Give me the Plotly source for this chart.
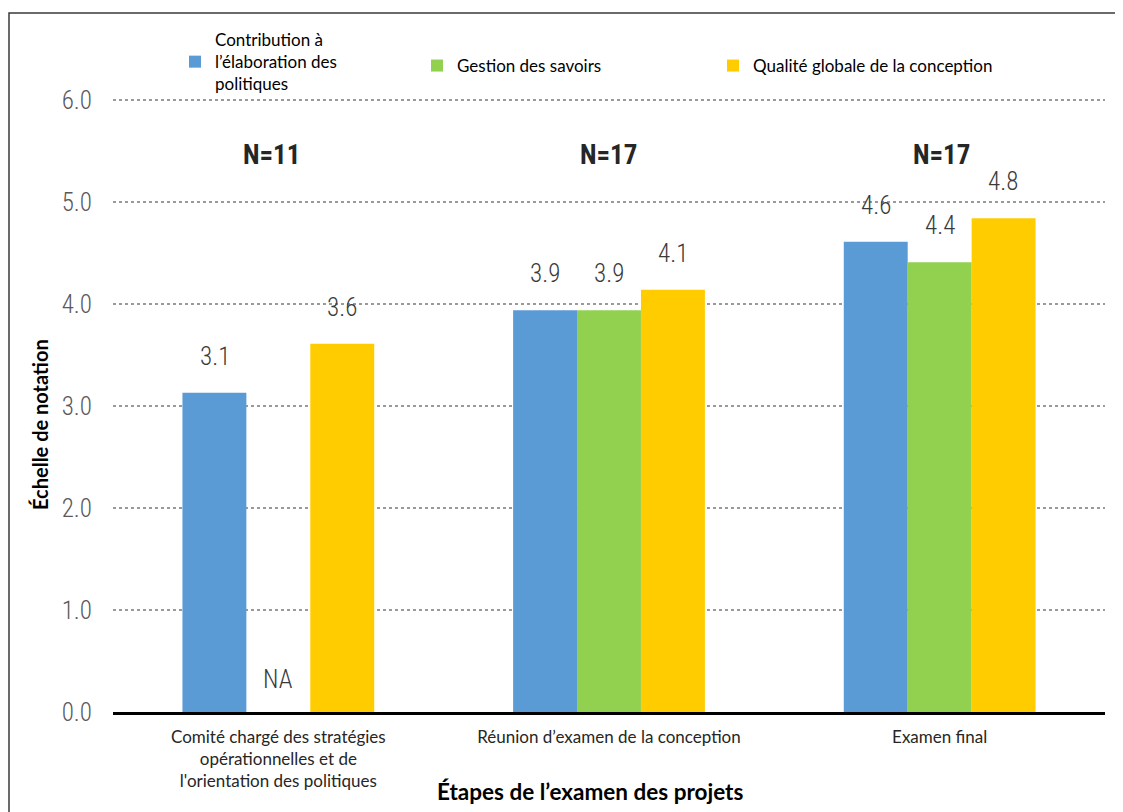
import plotly.graph_objects as go

categories = ["Comité chargé des stratégies<br>opérationnelles et de<br>l'orientation des politiques",
              "Réunion d’examen de la conception",
              "Examen final"]
cat_keys = ["c1", "c2", "c3"]
series_names = ["Contribution à<br>l’élaboration des<br>politiques",
                "Gestion des savoirs",
                "Qualité globale de la conception"]
contribution = [3.13, 3.94, 4.61]
gestion = [None, 3.94, 4.41]
qualite = [3.61, 4.14, 4.84]
n_labels = ["N=11", "N=17", "N=17"]
colors = ["#5B9BD5", "#92D050", "#FFCC00"]
y_ticks = [0, 1, 2, 3, 4, 5, 6]

# page has an 8px body margin; figure coords = page coords - 8
OFF = 8
W, H = 1115, 804
L, T = 113 - OFF, 98 - OFF
R = W - (1105 - OFF)
B = H - (712 - OFF)
pw, ph = W - L - R, H - T - B


def px_x(p):
    return (p - OFF - L) / pw


def px_y(p):
    return (H - B - (p - OFF)) / ph


num_font = "Roboto Condensed, Noto Sans Condensed, Lato"
txt_font = "Lato, Open Sans, sans-serif"

fig = go.Figure()
series = [contribution, gestion, qualite]
legends = ["legend", "legend2", "legend3"]
for name, vals, col, lg in zip(series_names, series, colors, legends):
    fig.add_trace(go.Bar(x=cat_keys, y=vals, name=name, marker_color=col,
                         marker_line_width=0, legend=lg, showlegend=True))

annotations = []
offsets = [-1, 0, 1]
for vals, off in zip(series, offsets):
    for i, v in enumerate(vals):
        if v is None:
            annotations.append(dict(x=i + off * 0.193, y=0, xref="x", yref="y",
                                    text="NA", showarrow=False, xanchor="center",
                                    yanchor="bottom", yshift=16,
                                    font=dict(family=num_font, size=25, weight=300, color="#3a3a3a")))
        else:
            annotations.append(dict(x=i + off * 0.193, y=v, xref="x", yref="y",
                                    text=f"{v:.1f}", showarrow=False, xanchor="center",
                                    yanchor="bottom", yshift=20,
                                    font=dict(family=num_font, size=25, weight=300, color="#3a3a3a")))
n_pos = [271, 608, 941]
for i, n in enumerate(n_labels):
    annotations.append(dict(x=px_x(n_pos[i]), y=px_y(155), xref="paper", yref="paper",
                            text=f"<b>{n}</b>", showarrow=False, xanchor="center", yanchor="middle",
                            font=dict(family=num_font, size=27, color="#262626")))
annotations.append(dict(x=px_x(40), y=px_y(425), xref="paper", yref="paper",
                        text="<b>Échelle de notation</b>", textangle=-90, showarrow=False,
                        xanchor="center", yanchor="middle",
                        font=dict(family=txt_font, size=20, color="#000000")))
annotations.append(dict(x=px_x(590), y=px_y(791), xref="paper", yref="paper",
                        text="<b>Étapes de l’examen des projets</b>", showarrow=False,
                        xanchor="center", yanchor="middle",
                        font=dict(family=txt_font, size=22.5, color="#000000")))

leg_font = dict(family=txt_font, size=17, color="#000000")
fig.update_layout(
    width=W, height=H,
    margin=dict(l=L, r=R, t=T, b=B),
    paper_bgcolor="white", plot_bgcolor="white",
    barmode="group", bargap=0.42, bargroupgap=0,
    showlegend=True,
    annotations=annotations,
    legend=dict(x=px_x(175), y=px_y(62), xanchor="left", yanchor="middle",
                font=leg_font, bgcolor="rgba(0,0,0,0)"),
    legend2=dict(x=px_x(417), y=px_y(66), xanchor="left", yanchor="middle",
                 font=leg_font, bgcolor="rgba(0,0,0,0)"),
    legend3=dict(x=px_x(713), y=px_y(66), xanchor="left", yanchor="middle",
                 font=leg_font, bgcolor="rgba(0,0,0,0)"),
    shapes=[dict(type="rect", xref="paper", yref="paper",
                 x0=px_x(9), x1=px_x(1140), y0=px_y(840), y1=px_y(13),
                 line=dict(color="#3a3a3a", width=1.5), fillcolor="rgba(0,0,0,0)", layer="below")],
)
fig.update_xaxes(tickvals=cat_keys, ticktext=categories, showgrid=False,
                 showline=True, linecolor="#000000", linewidth=2.5,
                 ticks="", tickfont=dict(family=txt_font, size=17, color="#262626"),
                 ticklabelstandoff=8)
fig.update_yaxes(range=[0, 6.02], tickvals=y_ticks, ticktext=[f"{t:.1f}" for t in y_ticks],
                 showgrid=True, gridcolor="#9a9a9a", griddash="dot", gridwidth=1.5,
                 zeroline=False, showline=False, ticks="",
                 tickfont=dict(family=num_font, size=25, weight=300, color="#595959"),
                 ticklabelstandoff=20)

fig.write_html("out.html")
